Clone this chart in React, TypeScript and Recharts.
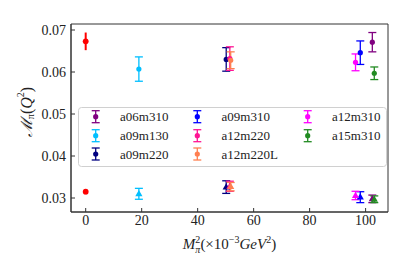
import React from 'react';
import { ScatterChart, Scatter, XAxis, YAxis, ErrorBar, Label, ReferenceArea } from 'recharts';

// ensembles, in legend order (matplotlib fills columns first)
const ensembles = ['a06m310', 'a09m130', 'a09m220', 'a09m310', 'a12m220', 'a12m220L', 'a12m310', 'a15m310'];
const mpi2 = [102.4, 19.0, 50.2, 98.1, 51.5, 51.8, 96.4, 103.1];
const valHigh = [0.0671, 0.0607, 0.063, 0.0646, 0.0632, 0.0628, 0.0623, 0.0597];
const errHigh = [0.0023, 0.0029, 0.0028, 0.0028, 0.0028, 0.002, 0.002, 0.0015];
const valLow = [0.0298, 0.031, 0.0326, 0.0302, 0.0328, 0.0327, 0.0306, 0.0297];
const errLow = [0.0009, 0.0013, 0.0015, 0.0013, 0.0012, 0.001, 0.001, 0.0008];

// red reference points at M_pi^2 = 0
const refX = [0, 0];
const refVal = [0.0673, 0.0315];
const refErr = [0.0021, 0.0006];

const xTicks = [0, 20, 40, 60, 80, 100];
const yTicks = [0.03, 0.04, 0.05, 0.06, 0.07];

const colors = ['#800080', '#00bfff', '#000080', '#0000ff', '#ff1493', '#ff7f50', '#ff00ff', '#228b22'];

const X_DOMAIN = [-5.25, 108];
const Y_DOMAIN = [0.02667, 0.07143];
const FONT = '"Liberation Serif", "DejaVu Serif", serif';
const AXIS = '#333';

const seriesData = ensembles.map((name, i) => [
  { x: mpi2[i], y: valHigh[i], err: errHigh[i], kind: 'dot' },
  { x: mpi2[i], y: valLow[i], err: errLow[i], kind: 'tri' },
]);
const refData = refX.map((x, i) => ({ x, y: refVal[i], err: refErr[i], kind: 'dot' }));

const makeShape = (color: string, r = 2.6) => (props: any) => {
  const { cx, cy, payload } = props;
  if (payload.kind === 'tri') {
    return <polygon points={`${cx},${cy - 3.8} ${cx - 3.6},${cy + 2.4} ${cx + 3.6},${cy + 2.4}`} fill={color} />;
  }
  return <circle cx={cx} cy={cy} r={r} fill={color} />;
};

function LegendBox() {
  const colX = [17.7, 119.3, 229.7];
  const rowY = [9.7, 28.7, 47];
  return (
    <svg width={309} height={60} style={{ display: 'block' }}>
      <rect x={0.5} y={0.5} width={308} height={59} rx={3} fill="#fff" fillOpacity={0.8} stroke="#d0d0d0" />
      {ensembles.map((name, i) => {
        const col = Math.floor(i / 3);
        const row = i % 3;
        const mx = colX[col];
        const my = rowY[row];
        const c = colors[i];
        return (
          <g key={name}>
            <line x1={mx} x2={mx} y1={my - 6} y2={my + 6} stroke={c} strokeWidth={1.3} />
            <line x1={mx - 4} x2={mx + 4} y1={my - 6} y2={my - 6} stroke={c} strokeWidth={1.3} />
            <line x1={mx - 4} x2={mx + 4} y1={my + 6} y2={my + 6} stroke={c} strokeWidth={1.3} />
            <circle cx={mx} cy={my} r={2.6} fill={c} />
            <text x={mx + 24.3} y={my + 4.5} fontFamily={FONT} fontSize={13} fill="#222">{name}</text>
          </g>
        );
      })}
    </svg>
  );
}

export default function App() {
  return (
    <div style={{ position: 'absolute', left: 0, top: 0, width: 407, height: 271, background: '#fff' }}>
      <ScatterChart width={407} height={271} margin={{ top: 24, right: 19, left: 21, bottom: 29 }}>
        <XAxis
          type="number"
          dataKey="x"
          domain={X_DOMAIN}
          ticks={xTicks}
          allowDataOverflow
          height={30}
          stroke={AXIS}
          tickSize={-4}
          tickMargin={7}
          tick={{ fill: '#222', fontFamily: FONT, fontSize: 14 }}
        >
          <Label
            content={({ viewBox }: any) => {
              const cx = viewBox.x + viewBox.width / 2;
              return (
                <text x={cx} y={viewBox.y + 37} textAnchor="middle" fontFamily={FONT} fontSize={15} fill="#222">
                  <tspan fontStyle="italic">M</tspan>
                  <tspan fontSize={10} dy={-6}>2</tspan>
                  <tspan fontSize={10} fontStyle="italic" dx={-5} dy={10}>π</tspan>
                  <tspan dy={-4}>(×10</tspan>
                  <tspan fontSize={10} dy={-6}>−3</tspan>
                  <tspan fontStyle="italic" dy={6}>GeV</tspan>
                  <tspan fontSize={10} dy={-6}>2</tspan>
                  <tspan dy={6}>)</tspan>
                </text>
              );
            }}
          />
        </XAxis>
        <YAxis
          type="number"
          dataKey="y"
          domain={Y_DOMAIN}
          ticks={yTicks}
          allowDataOverflow
          width={50}
          stroke={AXIS}
          tickSize={-4}
          tickMargin={9}
          tickFormatter={(v: number) => v.toFixed(2)}
          tick={{ fill: '#222', fontFamily: FONT, fontSize: 14 }}
        >
          <Label
            content={() => {
              const x = 28;
              const y = 112;
              return (
                <text x={x} y={y} transform={`rotate(-90 ${x} ${y})`} textAnchor="middle" dominantBaseline="middle" fontFamily={FONT} fontSize={16} fill="#222">
                  <tspan fontStyle="italic">ℳ</tspan>
                  <tspan fontSize={10} dy={4}>π</tspan>
                  <tspan dy={-4}>(</tspan>
                  <tspan fontStyle="italic">Q</tspan>
                  <tspan fontSize={10} dy={-6}>2</tspan>
                  <tspan dy={6}>)</tspan>
                </text>
              );
            }}
          />
        </YAxis>
        <ReferenceArea
          x1={X_DOMAIN[0]}
          x2={X_DOMAIN[1]}
          y1={Y_DOMAIN[0]}
          y2={Y_DOMAIN[1]}
          fill="none"
          stroke={AXIS}
          strokeWidth={1}
          ifOverflow="visible"
        />
        <Scatter data={refData} dataKey="y" fill="#ff0000" shape={makeShape('#ff0000', 2.9)} isAnimationActive={false}>
          <ErrorBar dataKey="err" direction="y" width={0} stroke="#ff0000" strokeWidth={2} />
        </Scatter>
        {ensembles.map((name, i) => (
          <Scatter
            key={name}
            name={name}
            data={seriesData[i]}
            dataKey="y"
            fill={colors[i]}
            shape={makeShape(colors[i])}
            isAnimationActive={false}
          >
            <ErrorBar dataKey="err" direction="y" width={4} stroke={colors[i]} strokeWidth={1.3} />
          </Scatter>
        ))}
      </ScatterChart>
      <div style={{ position: 'absolute', left: 78, top: 107, width: 309, height: 60 }}>
        <LegendBox />
      </div>
    </div>
  );
}
